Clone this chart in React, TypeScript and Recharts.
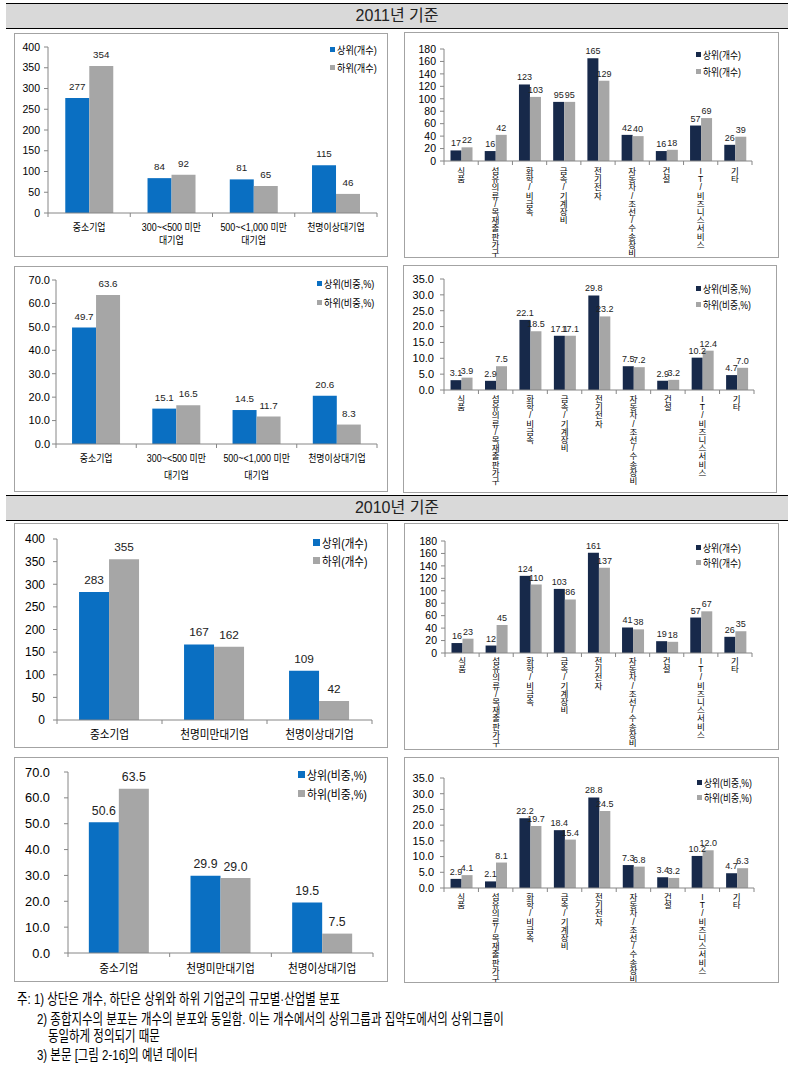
import React from "react";
import { BarChart, Bar, XAxis, YAxis, LabelList, Legend } from "recharts";

// categories
const sizeCats2011 = ["중소기업", "300~<500 미만\n대기업", "500~<1,000 미만\n대기업", "천명이상대기업"];
const sizeCats2010 = ["중소기업", "천명미만대기업", "천명이상대기업"];
const industryCats = [
  "식품",
  "섬유의류/목재출판가구",
  "화학/비금속",
  "금속/기계장비",
  "전기전자",
  "자동차/조선/수송장비",
  "건설",
  "IT/비즈니스서비스",
  "기타",
];

// 2011
const upperCount2011 = [277, 84, 81, 115];
const lowerCount2011 = [354, 92, 65, 46];
const upperShare2011 = [49.7, 15.1, 14.5, 20.6];
const lowerShare2011 = [63.6, 16.5, 11.7, 8.3];
const upperIndCount2011 = [17, 16, 123, 95, 165, 42, 16, 57, 26];
const lowerIndCount2011 = [22, 42, 103, 95, 129, 40, 18, 69, 39];
const upperIndShare2011 = [3.1, 2.9, 22.1, 17.1, 29.8, 7.5, 2.9, 10.2, 4.7];
const lowerIndShare2011 = [3.9, 7.5, 18.5, 17.1, 23.2, 7.2, 3.2, 12.4, 7.0];

// 2010
const upperCount2010 = [283, 167, 109];
const lowerCount2010 = [355, 162, 42];
const upperShare2010 = [50.6, 29.9, 19.5];
const lowerShare2010 = [63.5, 29.0, 7.5];
const upperIndCount2010 = [16, 12, 124, 103, 161, 41, 19, 57, 26];
const lowerIndCount2010 = [23, 45, 110, 86, 137, 38, 18, 67, 35];
const upperIndShare2010 = [2.9, 2.1, 22.2, 18.4, 28.8, 7.3, 3.4, 10.2, 4.7];
const lowerIndShare2010 = [4.1, 8.1, 19.7, 15.4, 24.5, 6.8, 3.2, 12.0, 6.3];

// axis ticks
const ticks400 = [0, 50, 100, 150, 200, 250, 300, 350, 400];
const ticks180 = [0, 20, 40, 60, 80, 100, 120, 140, 160, 180];
const ticks70 = [0, 10, 20, 30, 40, 50, 60, 70];
const ticks35 = [0, 5, 10, 15, 20, 25, 30, 35];

const countNames = ["상위(개수)", "하위(개수)"];
const shareNames = ["상위(비중,%)", "하위(비중,%)"];

const notes = [
  "주: 1) 상단은 개수, 하단은 상위와 하위 기업군의 규모별·산업별 분포",
  "2) 종합지수의 분포는 개수의 분포와 동일함. 이는 개수에서의 상위그룹과 집약도에서의 상위그룹이",
  "동일하게 정의되기 때문",
  "3) 본문 [그림 2-16]의 예년 데이터",
];

const BLUE = "#0a6fc2";
const NAVY = "#17294a";
const GRAY = "#a6a6a6";
const AXIS = "#868686";
const FONT = "'Liberation Sans', 'Noto Sans CJK KR', sans-serif";

type Panel = {
  box: number[]; // left, top, w, h (page)
  plot: number[]; // l, t, r, b (inside box)
  cats: string[];
  upper: number[];
  lower: number[];
  names: string[];
  upperColor: string;
  ticks: number[];
  dec: number;
  gap: string;
  yFs: number;
  yMargin: number;
  labFs: number;
  labOff: number;
  vertical: boolean;
  catFs: number;
  catDy: number;
  catLh: number;
  legend: { x: number; y: number; pitch: number; fs: number; sq: number };
};

const panels: Panel[] = [
  {
    box: [14, 33, 374, 224], plot: [34, 14, 363, 180], cats: sizeCats2011,
    upper: upperCount2011, lower: lowerCount2011, names: countNames, upperColor: BLUE,
    ticks: ticks400, dec: 0, gap: "21%", yFs: 10.5, yMargin: 4, labFs: 9.8, labOff: 8,
    vertical: false, catFs: 10.5, catDy: 14, catLh: 13,
    legend: { x: 316, y: 16, pitch: 18, fs: 10.5, sq: 5 },
  },
  {
    box: [404, 32, 375, 226], plot: [40, 17, 348, 129], cats: industryCats,
    upper: upperIndCount2011, lower: lowerIndCount2011, names: countNames, upperColor: NAVY,
    ticks: ticks180, dec: 0, gap: "19%", yFs: 10.5, yMargin: 4, labFs: 9, labOff: 4,
    vertical: true, catFs: 8.5, catDy: 6, catLh: 8.2,
    legend: { x: 292, y: 22, pitch: 17, fs: 10, sq: 5 },
  },
  {
    box: [14, 266, 374, 226], plot: [42, 14, 363, 178], cats: sizeCats2011,
    upper: upperShare2011, lower: lowerShare2011, names: shareNames, upperColor: BLUE,
    ticks: ticks70, dec: 1, gap: "20%", yFs: 11, yMargin: 2, labFs: 9.8, labOff: 8,
    vertical: false, catFs: 10.5, catDy: 14, catLh: 17,
    legend: { x: 303, y: 17, pitch: 19, fs: 10.5, sq: 5 },
  },
  {
    box: [403, 265, 374, 228], plot: [41, 14, 351, 125], cats: industryCats,
    upper: upperIndShare2011, lower: lowerIndShare2011, names: shareNames, upperColor: NAVY,
    ticks: ticks35, dec: 1, gap: "19%", yFs: 11, yMargin: 6, labFs: 9, labOff: 4,
    vertical: true, catFs: 8.5, catDy: 5, catLh: 8.2,
    legend: { x: 293, y: 23, pitch: 16, fs: 10, sq: 5 },
  },
  {
    box: [14, 523, 374, 225], plot: [43, 16, 358, 197], cats: sizeCats2010,
    upper: upperCount2010, lower: lowerCount2010, names: countNames, upperColor: BLUE,
    ticks: ticks400, dec: 0, gap: "21%", yFs: 12, yMargin: 8, labFs: 11.8, labOff: 8,
    vertical: false, catFs: 12.5, catDy: 14, catLh: 14,
    legend: { x: 299, y: 19, pitch: 18, fs: 12, sq: 7 },
  },
  {
    box: [404, 523, 375, 227], plot: [41, 18, 348, 130], cats: industryCats,
    upper: upperIndCount2010, lower: lowerIndCount2010, names: countNames, upperColor: NAVY,
    ticks: ticks180, dec: 0, gap: "19%", yFs: 10.5, yMargin: 4, labFs: 9, labOff: 4,
    vertical: true, catFs: 8.5, catDy: 4, catLh: 8.2,
    legend: { x: 292, y: 24, pitch: 15, fs: 10, sq: 5 },
  },
  {
    box: [14, 757, 374, 225], plot: [54, 15, 359, 196], cats: sizeCats2010,
    upper: upperShare2010, lower: lowerShare2010, names: shareNames, upperColor: BLUE,
    ticks: ticks70, dec: 1, gap: "20.5%", yFs: 12.8, yMargin: 14, labFs: 12.3, labOff: 7.5,
    vertical: false, catFs: 12.5, catDy: 15, catLh: 14,
    legend: { x: 284, y: 17, pitch: 19, fs: 12.5, sq: 7 },
  },
  {
    box: [404, 757, 375, 226], plot: [40, 21, 350, 131], cats: industryCats,
    upper: upperIndShare2010, lower: lowerIndShare2010, names: shareNames, upperColor: NAVY,
    ticks: ticks35, dec: 1, gap: "19%", yFs: 11, yMargin: 6, labFs: 9, labOff: 4,
    vertical: true, catFs: 8.5, catDy: 5, catLh: 8.2,
    legend: { x: 293, y: 25, pitch: 15, fs: 10, sq: 5 },
  },
];

const CatTick = (props: any) => {
  const { x, payload, index, cfg, band, n } = props;
  const b = cfg.plot[3];
  const label: string = payload.value;
  const marks = [x - band / 2];
  if (index === n - 1) marks.push(x + band / 2);
  return (
    <g>
      {marks.map((mx, i) => (
        <line key={i} x1={mx} x2={mx} y1={b} y2={b + 4} stroke={AXIS} />
      ))}
      {cfg.vertical ? (
        Array.from(label).map((ch, i) => (
          <text
            key={i}
            x={x}
            y={b + cfg.catDy + 4 + i * cfg.catLh}
            textAnchor="middle"
            dominantBaseline="central"
            fontSize={cfg.catFs}
            fill="#000"
          >
            {ch}
          </text>
        ))
      ) : (
        <g transform={`translate(${x},${b + cfg.catDy})`}>
          <text transform="scale(0.85,1)" textAnchor="middle" fontSize={cfg.catFs} fill="#000">
            {label.split("\n").map((ln, i) => (
              <tspan key={i} x={0} y={i * cfg.catLh} dominantBaseline="central">
                {ln}
              </tspan>
            ))}
          </text>
        </g>
      )}
    </g>
  );
};

const LegendBody = ({ payload, lg }: { payload?: any[]; lg: Panel["legend"] }) => (
  <div>
    {(payload || []).map((p: any) => (
      <div
        key={p.value}
        style={{ display: "flex", alignItems: "center", height: lg.pitch, whiteSpace: "nowrap" }}
      >
        <span style={{ width: lg.sq, height: lg.sq, background: p.color, marginRight: 2, flex: "none" }} />
        <span
          style={{
            fontSize: lg.fs,
            color: "#000",
            display: "inline-block",
            transform: "scaleX(0.87)",
            transformOrigin: "left center",
          }}
        >
          {p.value}
        </span>
      </div>
    ))}
  </div>
);

const ChartPanel = ({ cfg }: { cfg: Panel }) => {
  const [left, top, w, h] = cfg.box;
  const [l, t, r, b] = cfg.plot;
  const rows = cfg.cats.map((name, i) => ({ name, upper: cfg.upper[i], lower: cfg.lower[i] }));
  const band = (r - l) / cfg.cats.length;
  const fmt = (v: any) => Number(v).toFixed(cfg.dec);
  const max = cfg.ticks[cfg.ticks.length - 1];
  return (
    <div style={{ position: "absolute", left, top, width: w, height: h }}>
      <BarChart
        width={w}
        height={h}
        data={rows}
        margin={{ top: t, right: w - r, left: 0, bottom: 0 }}
        barCategoryGap={cfg.gap}
        barGap={0}
      >
        <XAxis
          dataKey="name"
          height={h - b}
          interval={0}
          axisLine={{ stroke: AXIS }}
          tickLine={false}
          tick={(p: any) => <CatTick {...p} cfg={cfg} band={band} n={cfg.cats.length} />}
        />
        <YAxis
          width={l}
          domain={[0, max]}
          ticks={cfg.ticks}
          interval={0}
          allowDataOverflow
          axisLine={{ stroke: AXIS }}
          tickLine={{ stroke: AXIS }}
          tickSize={4}
          tickMargin={cfg.yMargin}
          tick={{ fontSize: cfg.yFs, fill: "#000" }}
          tickFormatter={fmt}
        />
        <Legend
          layout="vertical"
          align="center"
          verticalAlign="middle"
          wrapperStyle={{ left: cfg.legend.x, top: cfg.legend.y - cfg.legend.pitch / 2, width: "auto" }}
          content={(p: any) => <LegendBody payload={p.payload} lg={cfg.legend} />}
        />
        <Bar dataKey="upper" name={cfg.names[0]} fill={cfg.upperColor} isAnimationActive={false}>
          <LabelList
            dataKey="upper"
            position="top"
            offset={cfg.labOff}
            fontSize={cfg.labFs}
            fill="#222"
            formatter={fmt}
          />
        </Bar>
        <Bar dataKey="lower" name={cfg.names[1]} fill={GRAY} isAnimationActive={false}>
          <LabelList
            dataKey="lower"
            position="top"
            offset={cfg.labOff}
            fontSize={cfg.labFs}
            fill="#222"
            formatter={fmt}
          />
        </Bar>
      </BarChart>
      <div
        style={{
          position: "absolute",
          left: 0,
          top: 0,
          width: w,
          height: h,
          boxSizing: "border-box",
          border: "1px solid #a3a3a3",
          pointerEvents: "none",
        }}
      />
    </div>
  );
};

const Header = ({ top, text }: { top: number; text: string }) => (
  <div
    style={{
      position: "absolute",
      left: 6,
      top,
      width: 782,
      height: 24,
      background: "#d9d9d9",
      borderTop: "1px solid #000",
      borderBottom: "1px solid #000",
      textAlign: "center",
      lineHeight: "24px",
      fontSize: 16,
      color: "#222",
    }}
  >
    {text}
  </div>
);

const noteLines = [
  { x: 17, y: 999 },
  { x: 37, y: 1019 },
  { x: 48, y: 1036 },
  { x: 37, y: 1055 },
];

export default function App() {
  return (
    <div
      style={{
        position: "absolute",
        left: 0,
        top: 0,
        width: 788,
        height: 1076,
        background: "#fff",
        fontFamily: FONT,
        overflow: "hidden",
      }}
    >
      <Header top={3} text="2011년 기준" />
      <Header top={495} text="2010년 기준" />
      {panels.map((cfg, i) => (
        <ChartPanel key={i} cfg={cfg} />
      ))}
      {notes.map((txt, i) => (
        <div
          key={i}
          style={{
            position: "absolute",
            left: noteLines[i].x,
            top: noteLines[i].y - 10,
            height: 20,
            lineHeight: "20px",
            fontSize: 14.5,
            color: "#000",
            whiteSpace: "nowrap",
            transform: "scaleX(0.79)",
            transformOrigin: "left center",
          }}
        >
          {txt}
        </div>
      ))}
    </div>
  );
}
